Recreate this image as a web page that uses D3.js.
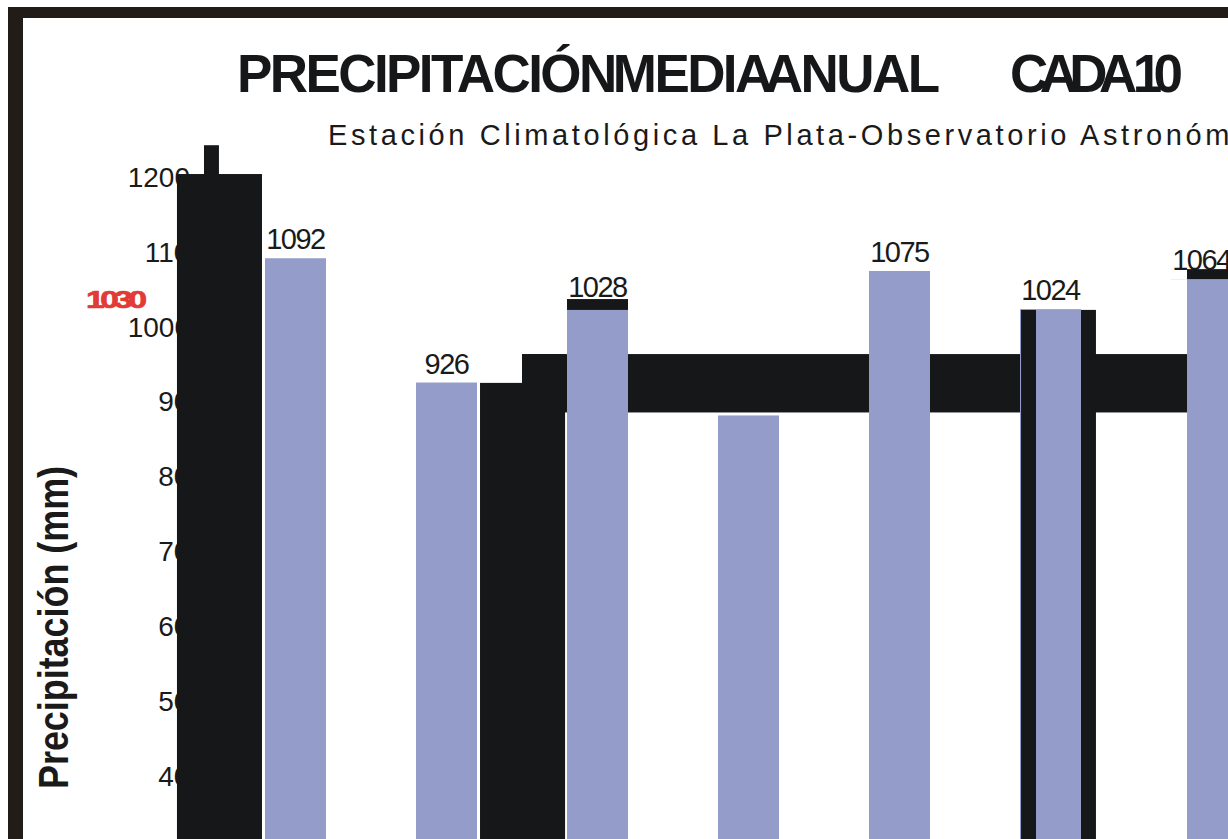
<!DOCTYPE html>
<html>
<head>
<meta charset="utf-8">
<script src="https://cdn.jsdelivr.net/npm/d3@7"></script>
<style>
  html, body { margin: 0; padding: 0; background: #ffffff; overflow: hidden; }
  svg { display: block; }
</style>
</head>
<body>
<svg id="chart" width="1228" height="839"></svg>
<script>
// Ten-year periods and their mean annual precipitation (mm)
const periods = ["1909-1918", "1919-1928", "1929-1938", "1939-1948", "1949-1958", "1959-1968", "1969-1978"];
const rainfall = [1092, 926, 1028, 882, 1075, 1024, 1064];
const showValue = [true, true, true, false, true, true, true];
const yTicks = [300, 400, 500, 600, 700, 800, 900, 1000, 1100, 1200];
const meanRainfall = 1030;

// Dark printed blocks, in period slots (0 = first bar's left edge) and mm:
// [slotFrom, slotTo, mmLow, mmHigh]
const darkBand = [
  [1.702, 6.106, 886, 964]
];
const darkBlocks = [
  [-0.583, -0.020, 0, 1204.5],
  [-0.404, -0.305, 1200, 1243],
  [1.424, 1.987, 0, 925.5],
  [1.702, 1.987, 0, 964],
  [2.000, 2.404, 1023, 1037.5],
  [5.007, 5.106, 0, 1023],
  [5.404, 5.503, 0, 1023],
  [6.000, 6.106, 886, 964],
  [6.106, 6.700, 1064, 1077.5]
];
// Blank paper strip over the last bar: [slotFrom, slotTo, mmLow, mmHigh]
const paperBlocks = [
  [6.000, 6.106, 0, 1064]
];

const title = "PRECIPITACIÓN MEDIA ANUAL";
const titleTail = "CADA 10";
const subtitle = "Estación Climatológica La Plata-Observatorio Astronómico";
const subtitleVisible = "Estación Climatológica La Plata-Observatorio Astronóm";
const yTitle = "Precipitación (mm)";

const COLORS = { bar: "#949dca", dark: "#161719", frame: "#211c18", text: "#1a1a1a", mean: "#e23a35" };
const FONT = "'Liberation Sans', Arial, sans-serif";

const svg = d3.select("#chart");

// scales
const x = d3.scaleBand()
  .domain(periods)
  .range([220, 220 + periods.length * 151])
  .paddingInner(0.596)
  .paddingOuter(0.298);
const slot = d3.scaleLinear()
  .domain([0, 1])
  .range([x(periods[0]), x(periods[1])]);
const y = d3.scaleLinear()
  .domain([0, 1200])
  .range([1075.7, 177.4]);

// frame
svg.append("rect").attr("x", 8).attr("y", 7).attr("width", 1220).attr("height", 11).attr("fill", COLORS.frame);
svg.append("rect").attr("x", 8).attr("y", 7).attr("width", 15).attr("height", 832).attr("fill", COLORS.frame);

// titles
svg.append("text")
  .attr("x", 237).attr("y", 92)
  .attr("font-family", FONT).attr("font-weight", "bold").attr("font-size", 53)
  .attr("word-spacing", -14)
  .attr("textLength", 703).attr("lengthAdjust", "spacing")
  .attr("fill", COLORS.dark)
  .text(title);
svg.append("text")
  .attr("x", 1010).attr("y", 92)
  .attr("font-family", FONT).attr("font-weight", "bold").attr("font-size", 53)
  .attr("textLength", 173).attr("lengthAdjust", "spacing")
  .attr("fill", COLORS.dark)
  .text(titleTail);

const sub = svg.append("text")
  .attr("x", 328).attr("y", 145)
  .attr("font-family", FONT).attr("font-size", 29)
  .attr("fill", COLORS.text)
  .text(subtitle);
const natural = sub.node().getSubStringLength(0, subtitleVisible.length);
sub.style("letter-spacing", ((905 - natural) / subtitleVisible.length) + "px");

// y axis title
svg.append("text")
  .attr("transform", "translate(68,789) rotate(-90)")
  .attr("font-family", FONT).attr("font-weight", "bold").attr("font-size", 42)
  .attr("textLength", 323).attr("lengthAdjust", "spacingAndGlyphs")
  .attr("fill", COLORS.text)
  .text(yTitle);

// y axis
const yAxis = svg.append("g")
  .attr("transform", "translate(205,0)")
  .call(d3.axisLeft(y).tickValues(yTicks).tickSize(0).tickPadding(0).tickFormat(d3.format("d")));
yAxis.select(".domain").remove();
yAxis.selectAll("text")
  .attr("font-family", FONT).attr("font-size", 28)
  .attr("fill", COLORS.text)
  .attr("dx", d => (d === 1200 || d === 1000) ? -15 : 0);

// mean annotation
svg.append("text")
  .attr("transform", `translate(86,${y(meanRainfall) + 3.6}) scale(1.45,1)`)
  .attr("font-family", FONT).attr("font-weight", "bold").attr("font-size", 23)
  .style("letter-spacing", "-3px")
  .attr("fill", COLORS.mean)
  .attr("stroke", COLORS.mean).attr("stroke-width", 0.7)
  .text(meanRainfall);

// helper for block rectangles in slot / mm units
function blocks(list, color) {
  svg.append("g").selectAll("rect")
    .data(list).join("rect")
    .attr("x", d => slot(d[0]))
    .attr("width", d => slot(d[1]) - slot(d[0]))
    .attr("y", d => y(d[3]))
    .attr("height", d => y(d[2]) - y(d[3]))
    .attr("fill", color);
}

// horizontal dark band sits behind the bars
blocks(darkBand, COLORS.dark);

// bars
const rows = periods.map((p, i) => ({ period: p, value: rainfall[i], label: showValue[i] }));
svg.append("g").selectAll("rect")
  .data(rows).join("rect")
  .attr("x", d => x(d.period))
  .attr("width", x.bandwidth())
  .attr("y", d => y(d.value))
  .attr("height", d => y(0) - y(d.value))
  .attr("fill", COLORS.bar);

// value labels
svg.append("g").selectAll("text")
  .data(rows.filter(d => d.label)).join("text")
  .attr("x", d => x(d.period) + x.bandwidth() / 2)
  .attr("y", d => y(d.value) - 9)
  .attr("text-anchor", "middle")
  .attr("font-family", FONT).attr("font-size", 29)
  .style("letter-spacing", "-1.5px")
  .attr("fill", COLORS.text)
  .text(d => d.value);

// paper strip and remaining dark blocks on top
blocks(paperBlocks, "#ffffff");
blocks(darkBlocks, COLORS.dark);
</script>
</body>
</html>
